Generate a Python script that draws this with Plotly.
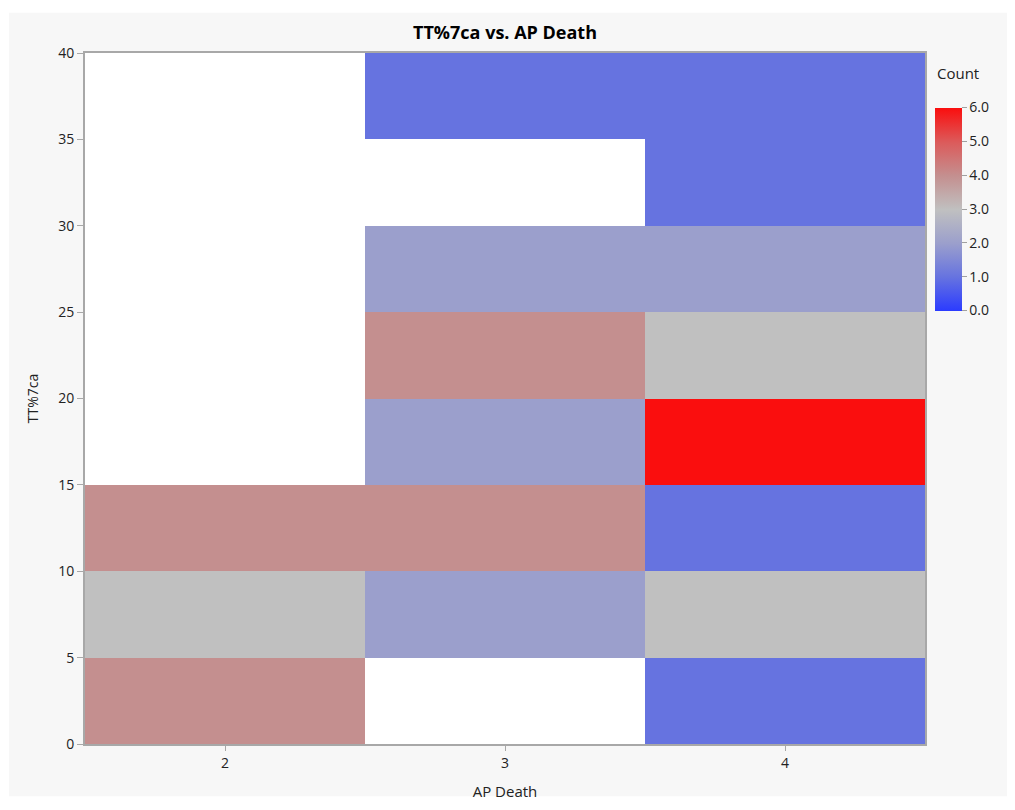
import plotly.graph_objects as go

# Data
ap_death = [2, 3, 4]
tt_bins_mid = [2.5, 7.5, 12.5, 17.5, 22.5, 27.5, 32.5, 37.5]
# counts[row=y bin][col=x category]; None = no observations
count_ap2 = [4, 3, 4, None, None, None, None, None]
count_ap3 = [None, 2, 4, 2, 4, 2, None, 1]
count_ap4 = [1, 3, 1, 6, 3, 2, 1, 1]
y_ticks = [0, 5, 10, 15, 20, 25, 30, 35, 40]
cbar_ticks = [0, 1, 2, 3, 4, 5, 6]

z = [[a, b, c] for a, b, c in zip(count_ap2, count_ap3, count_ap4)]

colorscale = [
    [0 / 6, "#2B3BFF"],
    [1 / 6, "#6673E0"],
    [2 / 6, "#9B9FCC"],
    [3 / 6, "#C0C0C0"],
    [4 / 6, "#C48F8F"],
    [5 / 6, "#DC5A5A"],
    [6 / 6, "#FA0E0E"],
]

font_family = "Open Sans, DejaVu Sans, sans-serif"

# page body has an 8px margin; figure is sized to fill the rest
W, H = 1007, 802
L, T, PW, PH = 77, 45, 840, 702

fig = go.Figure()
fig.add_trace(go.Heatmap(
    x=ap_death, y=tt_bins_mid, z=z,
    zmin=0, zmax=6, colorscale=colorscale,
    hoverongaps=False,
    colorbar=dict(
        x=(927 - L) / PW, xanchor="left", xpad=0, ypad=0,
        y=(T + PH - 203.5) / PH, yanchor="middle",
        lenmode="pixels", len=203, thickness=27,
        outlinewidth=0,
        tickvals=cbar_ticks, ticktext=[f"{v:.1f}" for v in cbar_ticks],
        ticks="outside", ticklen=5, tickcolor="#A0A0A0",
        tickfont=dict(size=14, color="#222"),
    ),
))

# Background panel
fig.add_shape(type="rect", xref="paper", yref="paper",
              x0=(1 - L) / PW, x1=(1002 - L) / PW,
              y0=(T + PH - 800) / PH, y1=(T + PH - 4) / PH,
              fillcolor="#F7F7F7", line=dict(width=0), layer="below")
fig.add_shape(type="rect", xref="paper", yref="paper",
              x0=0, x1=1, y0=0, y1=1,
              fillcolor="white", line=dict(width=0), layer="below")

fig.add_annotation(text="Count", xref="paper", yref="paper",
                   x=(927 - L) / PW, y=(T + PH - 65) / PH, xanchor="left", yanchor="middle",
                   showarrow=False, font=dict(size=15, color="#222", family=font_family))

fig.update_layout(
    width=W, height=H,
    margin=dict(l=L, r=W - L - PW, t=T, b=H - T - PH),
    paper_bgcolor="white", plot_bgcolor="rgba(0,0,0,0)",
    font=dict(family=font_family, color="#222"),
    title=dict(text="<b>TT%7ca vs. AP Death</b>", x=497 / W,
               xanchor="center", y=1 - 25 / H, yanchor="middle",
               font=dict(size=18, color="black")),
    xaxis=dict(
        range=[1.5, 4.5], tickvals=ap_death, ticktext=[str(v) for v in ap_death],
        showgrid=False, zeroline=False, showline=True, mirror=True,
        linecolor="#A8A8A8", linewidth=2,
        ticks="outside", ticklen=5, tickcolor="#A8A8A8",
        tickfont=dict(size=14),
        title=dict(text="AP Death", font=dict(size=15), standoff=16),
    ),
    yaxis=dict(
        range=[0, 40], tickvals=y_ticks,
        showgrid=False, zeroline=False, showline=True, mirror=True,
        linecolor="#A8A8A8", linewidth=2,
        ticks="outside", ticklen=6, tickcolor="#A8A8A8",
        tickfont=dict(size=14),
        title=dict(text="TT%7ca", font=dict(size=14), standoff=16),
    ),
)

fig.write_html("out.html")
